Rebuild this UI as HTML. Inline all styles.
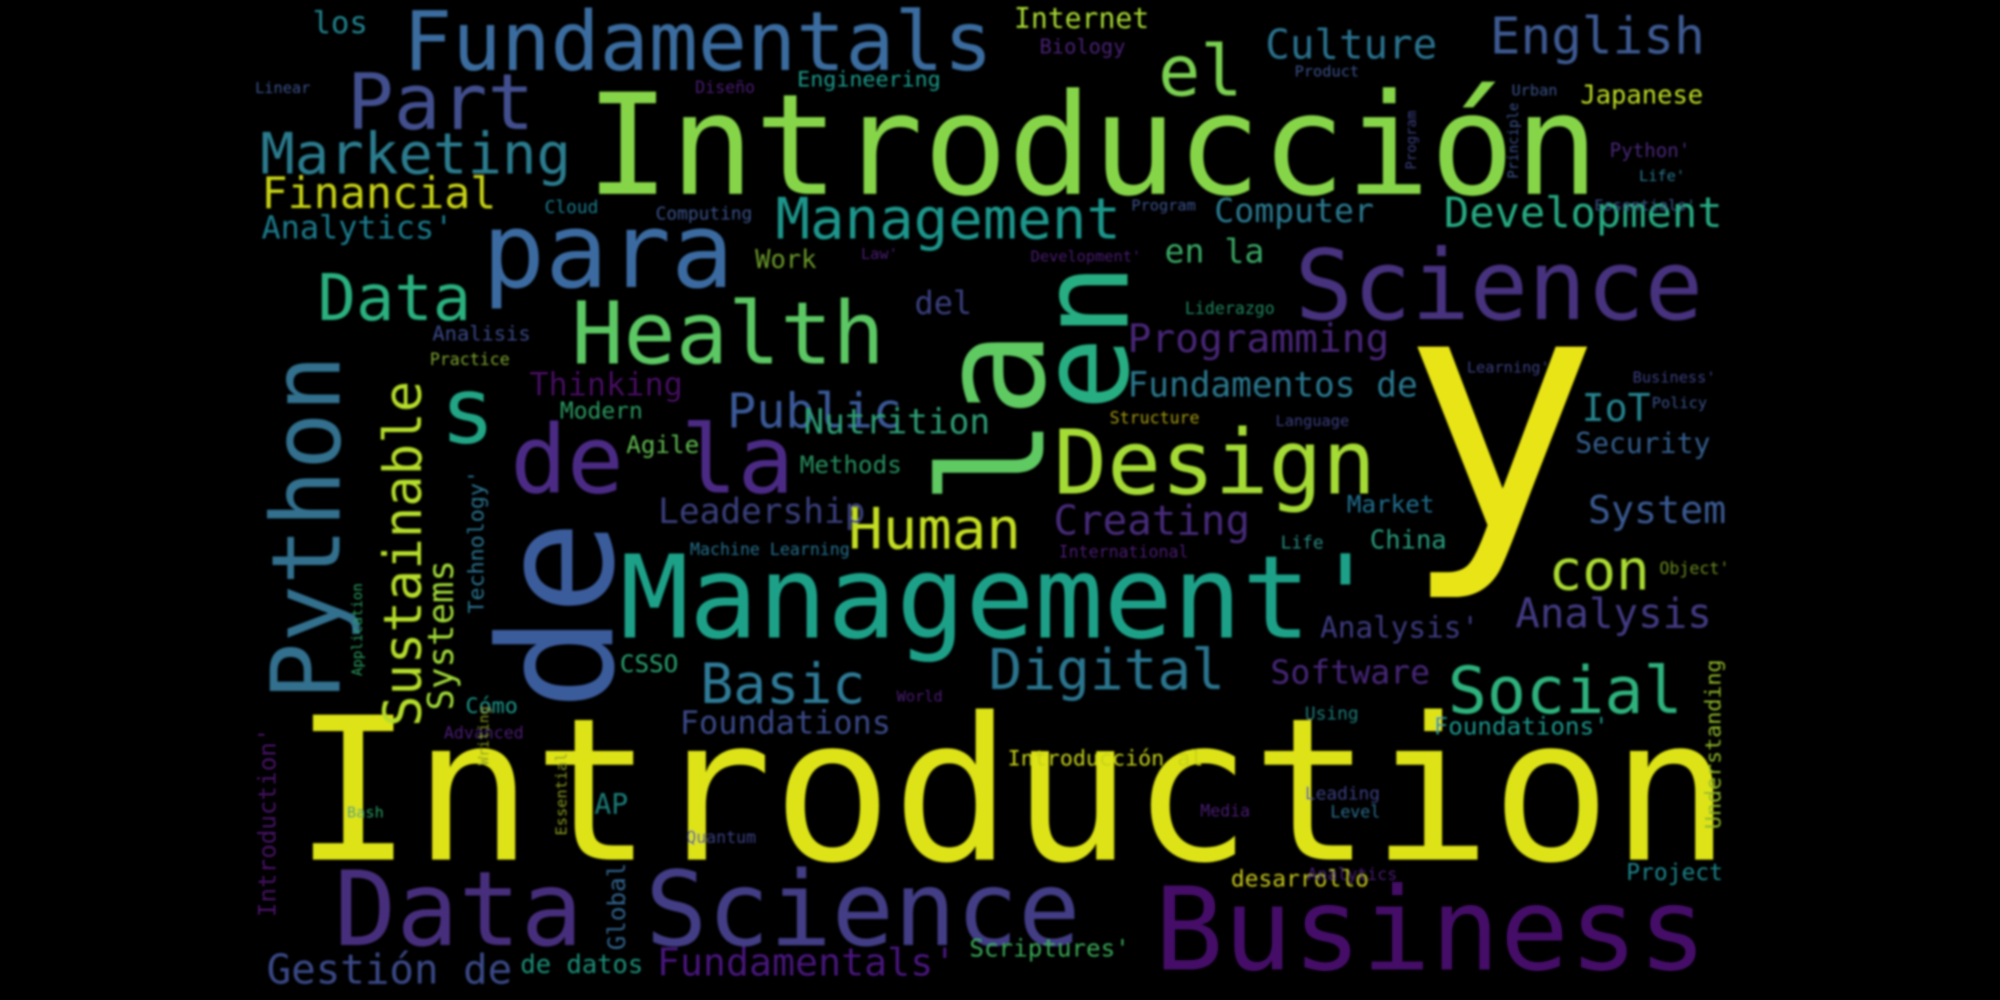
<!DOCTYPE html>
<html><head><meta charset="utf-8"><title>Word cloud</title>
<style>
html,body{margin:0;padding:0;background:#000;}
svg{display:block;}
text{font-family:"DejaVu Sans Mono","Liberation Mono",monospace;}
</style></head>
<body>
<svg width="2000" height="1000" viewBox="0 0 1568 784" preserveAspectRatio="none" xmlns="http://www.w3.org/2000/svg">
<defs><filter id="soft" x="-5%" y="-5%" width="110%" height="110%"><feGaussianBlur stdDeviation="0.9"/></filter></defs>
<rect x="0" y="0" width="1568" height="784" fill="#000"/>
<g filter="url(#soft)">
<text x="230" y="674" font-size="156" fill="#dde318">Introduction</text>
<text x="459" y="152" font-size="110" fill="#86d549">Introducción</text>
<text x="1098" y="414" font-size="260" fill="#e8e419">y</text>
<text x="486" y="500" font-size="90" fill="#1fa188">Management'</text>
<text x="378" y="225" font-size="82" fill="#3b6aa0">para</text>
<text x="1015" y="250" font-size="76" fill="#46327e">Science</text>
<text x="448" y="285" font-size="68" fill="#5cc863">Health</text>
<text x="826" y="387" font-size="70" fill="#a5db36">Design</text>
<text x="262" y="741" font-size="81"><tspan fill="#472d7b">Data </tspan><tspan fill="#433e85">Science</tspan></text>
<text x="905" y="760" font-size="90" fill="#450d67">Business</text>
<text x="400" y="386" font-size="74" fill="#4b2c85">de la</text>
<text x="345" y="347" font-size="72" fill="#21a585">s</text>
<text x="316" y="55" font-size="64" fill="#3b6c9f">Fundamentals</text>
<text x="272" y="101" font-size="61" fill="#43508e">Part</text>
<text x="1168" y="42" font-size="40" fill="#3d5a92">English</text>
<text x="908" y="75" font-size="55" fill="#7ad151">el</text>
<text x="249" y="251" font-size="50" fill="#2ab07f">Data</text>
<text x="570" y="335" font-size="38" fill="#3b5a99">Public</text>
<text x="665" y="430" font-size="45" fill="#c5df22">Human</text>
<text x="775" y="540" font-size="44" fill="#2b758e">Digital</text>
<text x="1135" y="559" font-size="51" fill="#2db27d">Social</text>
<text x="549" y="551" font-size="43" fill="#2e7a97">Basic</text>
<text x="1214" y="462" font-size="44" fill="#aadc32">con</text>
<text x="608" y="187" font-size="45" fill="#1f968b">Management</text>
<text x="204" y="136" font-size="45" fill="#2a7b8e">Marketing</text>
<text x="205" y="163" font-size="34" fill="#c8d318">Financial</text>
<text x="205" y="187" font-size="25" fill="#1f7a8c">Analytics'</text>
<text x="245" y="26" font-size="24" fill="#23838e">los</text>
<text x="992" y="46" font-size="32" fill="#2c728e">Culture</text>
<text x="795" y="22" font-size="22" fill="#a8db34">Internet</text>
<text x="1239" y="81" font-size="20" fill="#bddf26">Japanese</text>
<text x="952" y="174" font-size="26" fill="#2a788e">Computer</text>
<text x="1132" y="178" font-size="33" fill="#25ab82">Development</text>
<text x="884" y="276" font-size="31" fill="#482878">Programming</text>
<text x="884" y="311" font-size="27" fill="#2a788e">Fundamentos de</text>
<text x="1240" y="330" font-size="30" fill="#25838e">IoT</text>
<text x="1235" y="355" font-size="22" fill="#355f8d">Security</text>
<text x="1245" y="410" font-size="30" fill="#3b5a92">System</text>
<text x="1188" y="492" font-size="32" fill="#433b83">Analysis</text>
<text x="1035" y="500" font-size="23" fill="#3d3a7f">Analysis'</text>
<text x="996" y="536" font-size="26" fill="#472879">Software</text>
<text x="1124" y="576" font-size="19" fill="#1f968b">Foundations'</text>
<text x="630" y="340" font-size="27" fill="#2f9e75">Nutrition</text>
<text x="516" y="410" font-size="27" fill="#3a3f7d">Leadership</text>
<text x="826" y="419" font-size="32" fill="#472c7a">Creating</text>
<text x="533" y="575" font-size="25" fill="#3b4a87">Foundations</text>
<text x="209" y="771" font-size="32" fill="#3b4a87">Gestión de</text>
<text x="408" y="763" font-size="20" fill="#1f8f78">de datos</text>
<text x="515" y="765" font-size="30" fill="#46157a">Fundamentals'</text>
<text x="760" y="750" font-size="19" fill="#3aa856">Scriptures'</text>
<text x="790" y="600" font-size="17" fill="#c8d31a">Introducción al</text>
<text x="965" y="695" font-size="18" fill="#c5c41b">desarrollo</text>
<text x="1275" y="690" font-size="18" fill="#1f848a">Project</text>
<text x="415" y="310" font-size="25" fill="#440b5e">Thinking</text>
<text x="439" y="328" font-size="18" fill="#2b9a61">Modern</text>
<text x="491" y="355" font-size="19" fill="#5fb94f">Agile</text>
<text x="627" y="371" font-size="19" fill="#27905e">Methods</text>
<text x="541" y="435" font-size="13" fill="#27708c">Machine Learning</text>
<text x="339" y="267" font-size="16" fill="#3b4a87">Analisis</text>
<text x="337" y="286" font-size="13" fill="#7fa530">Practice</text>
<text x="592" y="210" font-size="20" fill="#6b9a2b">Work</text>
<text x="675" y="203" font-size="12" fill="#4a1f72">Law'</text>
<text x="808" y="205" font-size="12" fill="#4a1f72">Development'</text>
<text x="913" y="206" font-size="26" fill="#3aa865">en la</text>
<text x="717" y="246" font-size="25" fill="#3b3f80">del</text>
<text x="929" y="246" font-size="13" fill="#21855f">Liderazgo</text>
<text x="870" y="332" font-size="13" fill="#a49a12">Structure</text>
<text x="1000" y="334" font-size="12" fill="#3b3f80">Language</text>
<text x="830" y="437" font-size="13" fill="#4a1f72">International</text>
<text x="1056" y="402" font-size="19" fill="#226e8e">Market</text>
<text x="1074" y="430" font-size="20" fill="#2a9d7d">China</text>
<text x="1004" y="430" font-size="14" fill="#2a8a80">Life</text>
<text x="1301" y="450" font-size="13" fill="#6b8a22">Object'</text>
<text x="1023" y="564" font-size="14" fill="#1f7a78">Using</text>
<text x="1023" y="627" font-size="14" fill="#3b3f80">Leading</text>
<text x="1043" y="641" font-size="13" fill="#2c6e8e">Level</text>
<text x="941" y="640" font-size="13" fill="#4a1f72">Media</text>
<text x="703" y="550" font-size="12" fill="#4a1f72">World</text>
<text x="427" y="167" font-size="14" fill="#1f7a8c">Cloud</text>
<text x="514" y="172" font-size="14" fill="#3b528b">Computing</text>
<text x="887" y="165" font-size="12" fill="#3b528b">Program</text>
<text x="200" y="73" font-size="12" fill="#3b528b">Linear</text>
<text x="545" y="73" font-size="13" fill="#4a1f72">Diseño</text>
<text x="815" y="42" font-size="16" fill="#482475">Biology</text>
<text x="625" y="68" font-size="17" fill="#1f9a8a">Engineering</text>
<text x="1015" y="60" font-size="12" fill="#3b528b">Product</text>
<text x="1185" y="75" font-size="12" fill="#3b528b">Urban</text>
<text x="1262" y="123" font-size="15" fill="#482878">Python'</text>
<text x="1285" y="142" font-size="12" fill="#2a788e">Life'</text>
<text x="1250" y="165" font-size="12" fill="#3b528b">Essentials'</text>
<text x="1150" y="292" font-size="12" fill="#3b3f80">Learning'</text>
<text x="1280" y="300" font-size="12" fill="#3b3f80">Business'</text>
<text x="1295" y="320" font-size="12" fill="#3b528b">Policy</text>
<text x="538" y="661" font-size="13" fill="#3b3f80">Quantum</text>
<text x="466" y="638" font-size="22" fill="#1e7b77">AP</text>
<text x="272" y="641" font-size="12" fill="#2a9d5f">Bash</text>
<text x="348" y="579" font-size="13" fill="#4a1f72">Advanced</text>
<text x="1025" y="690" font-size="13" fill="#4a1f72">Analytics</text>
<text x="365" y="559" font-size="17" fill="#1f968b">Cómo</text>
<text x="486" y="527" font-size="19" fill="#29a36f">CSSO</text>

<text x="480" y="557" font-size="124" fill="#3b5b9b" transform="rotate(-90 480 557)">de</text>
<text x="818" y="396" font-size="114" fill="#5ec962" transform="rotate(-90 818 396)">la</text>
<text x="884" y="322" font-size="96" fill="#27ad81" transform="rotate(-90 884 322)">en</text>
<text x="266" y="549" font-size="75" fill="#31708e" transform="rotate(-90 266 549)">Python</text>
<text x="330" y="570" font-size="41" fill="#b5de2b" transform="rotate(-90 330 570)">Sustainable</text>
<text x="355" y="557" font-size="28" fill="#a0da39" transform="rotate(-90 355 557)">Systems</text>
<text x="379" y="481" font-size="17" fill="#2c728e" transform="rotate(-90 379 481)">Technology'</text>
<text x="216" y="719" font-size="19" fill="#471365" transform="rotate(-90 216 719)">Introduction'</text>
<text x="490" y="745" font-size="19" fill="#33638d" transform="rotate(-90 490 745)">Global</text>
<text x="444" y="655" font-size="12" fill="#8a9a20" transform="rotate(-90 444 655)">Essential</text>
<text x="1349" y="650" font-size="17" fill="#8fb82a" transform="rotate(-90 1349 650)">Understanding</text>
<text x="284" y="530" font-size="11" fill="#2a9d5f" transform="rotate(-90 284 530)">Application</text>
<text x="383" y="600" font-size="11" fill="#8a9a20" transform="rotate(-90 383 600)">Writing</text>
<text x="1190" y="140" font-size="11" fill="#3b528b" transform="rotate(-90 1190 140)">Principle</text>
<text x="1110" y="133" font-size="11" fill="#3b3f80" transform="rotate(-90 1110 133)">Program</text>
</g>
</svg>
</body></html>
